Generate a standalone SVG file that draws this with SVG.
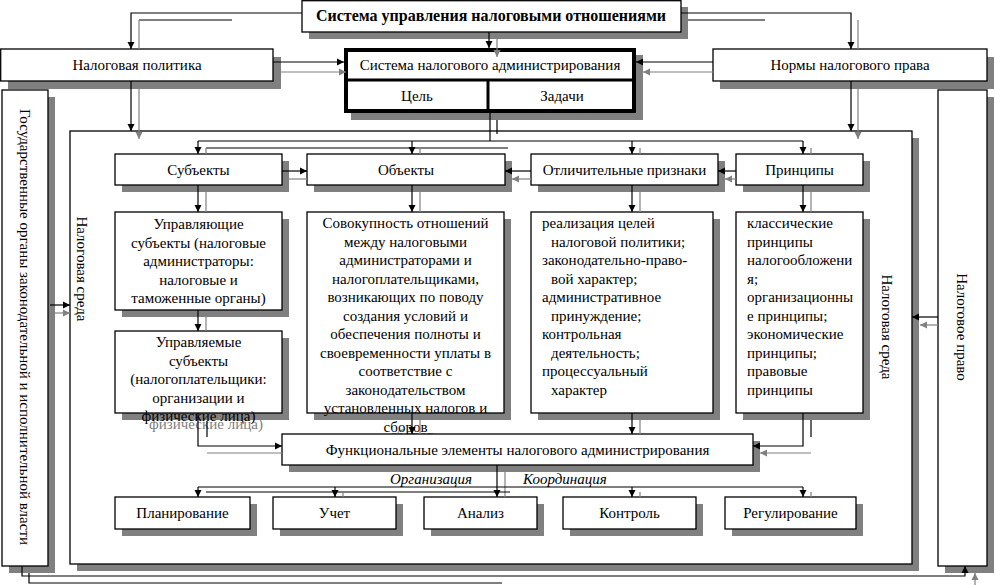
<svg xmlns="http://www.w3.org/2000/svg" width="995" height="585" viewBox="0 0 995 585">
<defs>
<style>
.box{fill:#fff;stroke:#000;stroke-width:1.3}
.sh{fill:#808080}
.t{font-family:"Liberation Serif","Times New Roman",serif;font-size:15px;fill:#000}
.m{text-anchor:middle}
.g{fill:#808080}
.i{font-style:italic}
.b{font-weight:bold;font-size:16px}
.ln{stroke:#000;stroke-width:1.2;fill:none}
.gl{stroke:#808080;stroke-width:1.2;fill:none}
.ab{marker-end:url(#ab)}
.ag{marker-end:url(#ag)}
</style>
<marker id="ab" markerUnits="userSpaceOnUse" markerWidth="8" markerHeight="8" refX="7" refY="4" orient="auto" viewBox="0 0 8 8"><path d="M0,0.5 L7,4 L0,7.5 Z" fill="#000"/></marker>
<marker id="ag" markerUnits="userSpaceOnUse" markerWidth="8" markerHeight="8" refX="7" refY="4" orient="auto" viewBox="0 0 8 8"><path d="M0,0.5 L7,4 L0,7.5 Z" fill="#808080"/></marker>
</defs>
<rect width="995" height="585" fill="#fff"/>

<g id="frame">
<rect class="sh" x="77" y="138" width="842" height="433"/>
<rect class="box" x="70" y="131" width="842" height="433"/>
<text class="t m" transform="translate(82,269) rotate(90)" y="5">Налоговая среда</text>
<text class="t m" transform="translate(887,327) rotate(90)" y="5">Налоговая среда</text>
</g>

<g id="gov">
<rect class="sh" x="9" y="97" width="46" height="476"/>
<rect class="box" x="2" y="90" width="46" height="476"/>
<text class="t m" transform="translate(25,327) rotate(90)" y="5">Государственные органы законодательной и исполнительной власти</text>
</g>

<g id="law">
<rect class="sh" x="945" y="97" width="49" height="476"/>
<rect class="box" x="938" y="90" width="49" height="476"/>
<text class="t m" transform="translate(962,327) rotate(90)" y="5">Налоговое право</text>
</g>

<g id="top">
<rect class="sh" x="309" y="7" width="379" height="32"/>
<rect class="box" x="302" y="0.7" width="379" height="31.3"/>
<text class="t m b" x="491" y="21">Система управления налоговыми отношениями</text>
</g>

<g id="policy">
<rect class="sh" x="8" y="57" width="273" height="32"/>
<rect class="box" x="0.7" y="49" width="272.3" height="32"/>
<text class="t m" x="137" y="70">Налоговая политика</text>
</g>

<g id="norms">
<rect class="sh" x="720" y="57" width="274" height="32"/>
<rect class="box" x="713" y="49" width="274" height="32"/>
<text class="t m" x="850" y="70">Нормы налогового права</text>
</g>

<g id="admin">
<rect class="sh" x="351" y="55" width="292" height="65"/>
<rect x="346" y="50" width="288" height="61" fill="#fff" stroke="#000" stroke-width="4"/>
<line x1="346" y1="80" x2="634" y2="80" stroke="#000" stroke-width="3"/>
<line x1="488" y1="80" x2="488" y2="111" stroke="#000" stroke-width="3"/>
<text class="t m" x="490" y="70">Система налогового администрирования</text>
<text class="t m" x="417" y="101">Цель</text>
<text class="t m" x="562" y="101">Задачи</text>
</g>

<g id="subjects">
<rect class="sh" x="122" y="161" width="167" height="31"/>
<rect class="box" x="115" y="154" width="167" height="31"/>
<text class="t m" x="198.5" y="175">Субъекты</text>
</g>

<g id="objects">
<rect class="sh" x="314" y="161" width="198" height="31"/>
<rect class="box" x="307" y="154" width="198" height="31"/>
<text class="t m" x="406" y="175">Объекты</text>
</g>

<g id="features">
<rect class="sh" x="538" y="161" width="187" height="31"/>
<rect class="box" x="531" y="154" width="187" height="31"/>
<text class="t m" x="624.5" y="175">Отличительные признаки</text>
</g>

<g id="principles">
<rect class="sh" x="743" y="161" width="127" height="31"/>
<rect class="box" x="736" y="154" width="127" height="31"/>
<text class="t m" x="799.5" y="175">Принципы</text>
</g>

<g id="managing">
<rect class="sh" x="122" y="219" width="167" height="98"/>
<rect class="box" x="115" y="212" width="167" height="98"/>
<text class="t m" x="198.5" y="229">Управляющие</text>
<text class="t m" x="198.5" y="247.5">субъекты (налоговые</text>
<text class="t m" x="198.5" y="266">администраторы:</text>
<text class="t m" x="198.5" y="284.5">налоговые и</text>
<text class="t m" x="198.5" y="303">таможенные органы)</text>
</g>

<g id="managed">
<rect class="sh" x="122" y="338" width="167" height="82"/>
<rect class="box" x="115" y="331" width="167" height="82"/>
<text class="t m g" x="206" y="429">физические лица)</text>
<text class="t m" x="198.5" y="347">Управляемые</text>
<text class="t m" x="198.5" y="365.5">субъекты</text>
<text class="t m" x="198.5" y="384">(налогоплательщики:</text>
<text class="t m" x="198.5" y="402.5">организации и</text>
<text class="t m" x="198.5" y="421">физические лица)</text>
</g>

<g id="objects-detail">
<rect class="sh" x="314" y="219" width="197" height="201"/>
<rect class="box" x="307" y="212" width="197" height="201"/>
<text class="t m g" x="412" y="440">сборов</text>
<text class="t m" x="405.5" y="228">Совокупность отношений</text>
<text class="t m" x="405.5" y="246.5">между налоговыми</text>
<text class="t m" x="405.5" y="265">администраторами и</text>
<text class="t m" x="405.5" y="283.5">налогоплательщиками,</text>
<text class="t m" x="405.5" y="302">возникающих по поводу</text>
<text class="t m" x="405.5" y="320.5">создания условий и</text>
<text class="t m" x="405.5" y="339">обеспечения полноты и</text>
<text class="t m" x="405.5" y="357.5">своевременности уплаты в</text>
<text class="t m" x="405.5" y="376">соответствие с</text>
<text class="t m" x="405.5" y="394.5">законодательством</text>
<text class="t m" x="405.5" y="413">установленных налогов и</text>
<text class="t m" x="405.5" y="431.5">сборов</text>
</g>

<g id="features-detail">
<rect class="sh" x="538" y="219" width="182" height="201"/>
<rect class="box" x="531" y="212" width="182" height="201"/>
<text class="t" x="542" y="228">реализация целей</text>
<text class="t" x="551" y="246.5">налоговой политики;</text>
<text class="t" x="542" y="265">законодательно-право-</text>
<text class="t" x="551" y="283.5">вой характер;</text>
<text class="t" x="542" y="302">административное</text>
<text class="t" x="551" y="320.5">принуждение;</text>
<text class="t" x="542" y="339">контрольная</text>
<text class="t" x="551" y="357.5">деятельность;</text>
<text class="t" x="542" y="376">процессуальный</text>
<text class="t" x="551" y="394.5">характер</text>
</g>

<g id="principles-detail">
<rect class="sh" x="743" y="219" width="127" height="201"/>
<rect class="box" x="736" y="212" width="127" height="201"/>
<text class="t" x="747" y="228">классические</text>
<text class="t" x="747" y="246.5">принципы</text>
<text class="t" x="747" y="265">налогообложени</text>
<text class="t" x="747" y="283.5">я;</text>
<text class="t" x="747" y="302">организационны</text>
<text class="t" x="747" y="320.5">е принципы;</text>
<text class="t" x="747" y="339">экономические</text>
<text class="t" x="747" y="357.5">принципы;</text>
<text class="t" x="747" y="376">правовые</text>
<text class="t" x="747" y="394.5">принципы</text>
</g>

<g id="functional">
<rect class="sh" x="289" y="441" width="471" height="31"/>
<rect class="box" x="282" y="434" width="471" height="31"/>
<text class="t m" x="517.5" y="455">Функциональные элементы налогового администрирования</text>
</g>

<g id="planning">
<rect class="sh" x="122" y="504" width="135" height="32"/>
<rect class="box" x="115" y="497" width="135" height="32"/>
<text class="t m" x="182.5" y="518">Планирование</text>
</g>
<g id="accounting">
<rect class="sh" x="280" y="504" width="123" height="32"/>
<rect class="box" x="273" y="497" width="123" height="32"/>
<text class="t m" x="334.5" y="518">Учет</text>
</g>
<g id="analysis">
<rect class="sh" x="431" y="504" width="113" height="32"/>
<rect class="box" x="424" y="497" width="113" height="32"/>
<text class="t m" x="480.5" y="518">Анализ</text>
</g>
<g id="control">
<rect class="sh" x="570" y="504" width="133" height="32"/>
<rect class="box" x="563" y="497" width="133" height="32"/>
<text class="t m" x="629.5" y="518">Контроль</text>
</g>
<g id="regulation">
<rect class="sh" x="732" y="504" width="131" height="32"/>
<rect class="box" x="725" y="497" width="131" height="32"/>
<text class="t m" x="790.5" y="518">Регулирование</text>
</g>

<g id="connectors">
<path class="ln ab" d="M302,13 H131 V49"/>
<path class="ln ab" d="M681,13 H851 V49"/>
<path class="ln" d="M232,20 H139"/>
<path class="gl" d="M139,20 V49"/>
<path class="ln" d="M688,20 H765"/>
<path class="gl" d="M858,20 V49"/>
<path class="ln ab" d="M489,32 V48"/>
<path class="gl ag" d="M497,39 V57"/>
<path class="ln ab" d="M273,62 H344"/>
<path class="gl ag" d="M281,72 H346"/>
<path class="ln ab" d="M713,62 H636"/>
<path class="gl ag" d="M713,72 H643"/>
<path class="ln ab" d="M131,81 V131"/>
<path class="gl ag" d="M139,89 V139"/>
<path class="ln ab" d="M851,81 V131"/>
<path class="gl ag" d="M858,89 V139"/>
<path class="ln" d="M490,113 V141 M497,120 V134 M198,141 H803"/>
<path class="ln ab" d="M198,141 V154"/>
<path class="ln ab" d="M412,141 V154"/>
<path class="ln ab" d="M632,141 V154"/>
<path class="ln ab" d="M803,141 V154"/>
<path class="ln" d="M206,148 H508"/>
<path class="gl" d="M206,148 V154 M420,148 V154 M640,148 V154 M811,148 V154"/>
<path class="ln ab" d="M282,171 H307"/>
<path class="gl" d="M289,179 H307"/>
<path class="ln ab" d="M531,171 H505"/>
<path class="gl ag" d="M531,179 H512"/>
<path class="ln ab" d="M736,171 H718"/>
<path class="gl ag" d="M736,179 H725"/>
<path class="ln ab" d="M198,185 V212"/>
<path class="ln ab" d="M412,185 V212"/>
<path class="ln ab" d="M632,185 V212"/>
<path class="ln ab" d="M803,185 V212"/>
<path class="gl" d="M206,192 V212 M420,192 V212 M640,192 V212 M811,192 V212"/>
<path class="ln ab" d="M198,310 V331"/>
<path class="gl" d="M206,317 V331"/>
<path class="ln ab" d="M198,413 V446 H282"/>
<path class="ln" d="M207,421 V437"/>
<path class="gl" d="M207,453 H282"/>
<path class="ln ab" d="M412,413 V434"/>
<path class="gl" d="M420,420 V434"/>
<path class="ln ab" d="M632,413 V434"/>
<path class="gl" d="M640,420 V434"/>
<path class="ln ab" d="M803,413 V446 H753"/>
<path class="ln" d="M811,420 V437"/>
<path class="gl ag" d="M811,453 H760"/>
<path class="ln ab" d="M497,465 V497"/>
<path class="gl" d="M505,472 V497"/>
<path class="ln" d="M198,487 H803"/>
<path class="ln" d="M206,492 H510"/>
<path class="ln ab" d="M198,487 V497"/>
<path class="ln ab" d="M335,487 V497"/>
<path class="ln ab" d="M632,487 V497"/>
<path class="ln ab" d="M803,487 V497"/>
<path class="gl" d="M343,492 V497 M640,492 V497 M811,492 V497"/>
<path class="ln ab" d="M50,305 H70"/>
<path class="gl ag" d="M55,313 H70"/>
<path class="ln ab" d="M938,317 H912"/>
<path class="gl ag" d="M938,325 H920"/>
<path class="ln ab" d="M22,566 V576 H965 V566"/>
<path class="ln" d="M29,573 V583 H502"/>
<path class="gl ag" d="M975,585 V573"/>
<text class="t i" x="390" y="484">Организация</text>
<text class="t i" x="523" y="484">Координация</text>
</g>
</svg>
